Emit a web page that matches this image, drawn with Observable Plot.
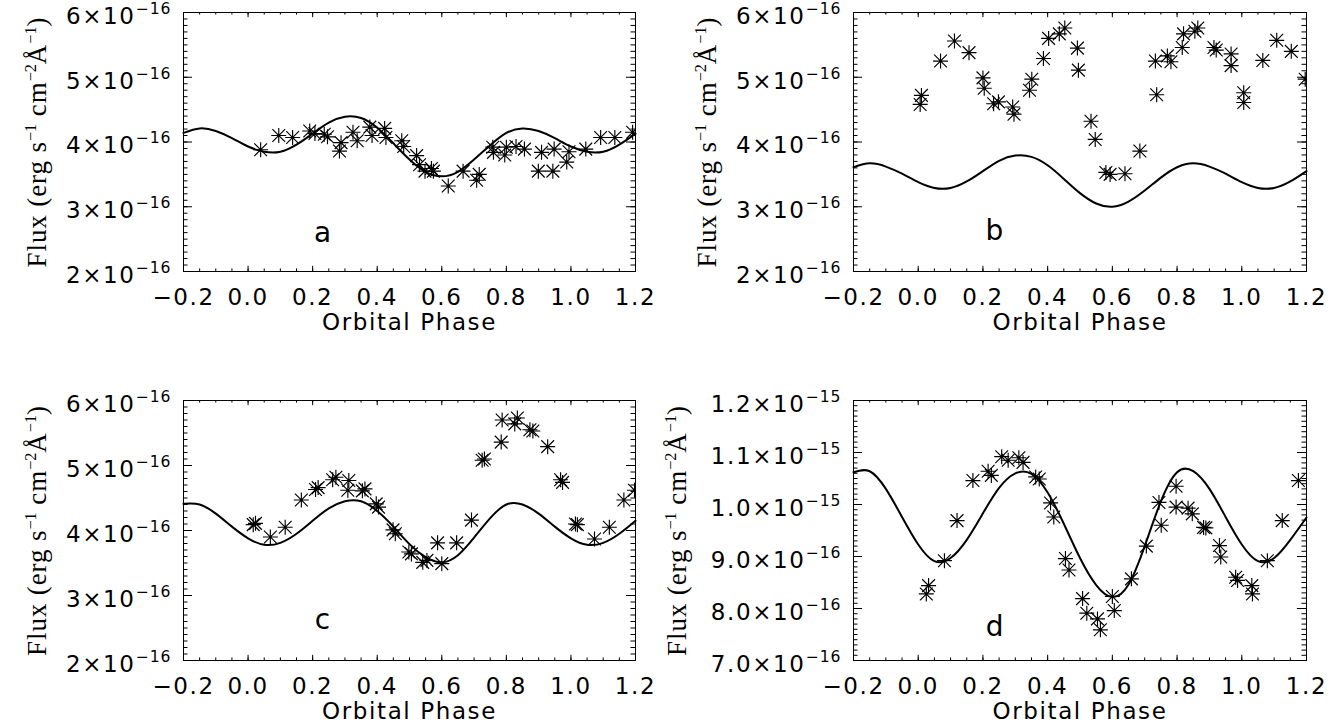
<!DOCTYPE html>
<html><head><meta charset="utf-8">
<script src="https://cdn.jsdelivr.net/npm/d3@7"></script>
<script src="https://cdn.jsdelivr.net/npm/@observablehq/plot@0.6"></script>
<style>
body{margin:0;background:#fff;}
#wrap{position:relative;width:1332px;height:726px;background:#fff;overflow:hidden}
#wrap > svg{position:absolute}
</style></head><body><div id="wrap"></div>
<script>
// ---------- data ----------
const curvePhase = [-0.2,-0.15,-0.1,-0.05,0,0.05,0.1,0.15,0.2,0.25,0.3,0.35,0.4,0.45,0.5,0.55,0.6,0.65,0.7,0.75,0.8,0.85,0.9,0.95,1.0,1.05,1.1,1.15,1.2];

// model curves (flux in units of 1e-16 for a,b,c; 1e-15 for d)
const curveA = [4.14,4.21,4.17,4.06,3.93,3.85,3.85,3.96,4.13,4.30,4.39,4.37,4.22,3.98,3.73,3.54,3.47,3.54,3.73,3.95,4.14,4.21,4.17,4.06,3.93,3.85,3.85,3.96,4.13];
const curveB = [3.61,3.67,3.62,3.51,3.38,3.29,3.29,3.39,3.55,3.71,3.79,3.77,3.64,3.43,3.21,3.05,3.00,3.08,3.25,3.45,3.61,3.67,3.62,3.51,3.38,3.29,3.29,3.39,3.55];
const curveC = [4.41,4.40,4.26,4.06,3.88,3.78,3.81,3.95,4.15,4.34,4.45,4.45,4.30,4.06,3.79,3.59,3.51,3.62,3.89,4.19,4.40,4.40,4.26,4.06,3.88,3.78,3.81,3.95,4.15];
const curveD = [1.062,1.064,1.030,0.976,0.923,0.891,0.897,0.932,0.983,1.032,1.060,1.059,1.023,0.963,0.897,0.845,0.822,0.846,0.920,1.006,1.062,1.064,1.030,0.976,0.923,0.891,0.897,0.932,0.975];

// observed points
const phaseA = [0.039,0.095,0.138,0.191,0.207,0.236,0.246,0.283,0.288,0.325,0.338,0.377,0.384,0.423,0.427,0.476,0.482,0.522,0.531,0.548,0.568,0.574,0.620,0.666,0.708,0.716,0.758,0.760,0.795,0.800,0.830,0.856,0.899,0.909,0.944,0.948,0.987,0.994,1.046,1.092,1.136,1.191];
const fluxA  = [3.88,4.10,4.07,4.17,4.13,4.12,4.08,3.86,3.99,4.15,4.02,4.23,4.10,4.21,4.07,4.02,3.93,3.79,3.65,3.55,3.59,3.55,3.32,3.55,3.41,3.50,3.92,3.84,3.80,3.92,3.93,3.89,3.55,3.84,3.55,3.89,3.69,3.85,3.89,4.07,4.07,4.15];

const phaseB = [0.006,0.010,0.069,0.112,0.157,0.200,0.204,0.233,0.248,0.292,0.296,0.344,0.351,0.387,0.403,0.436,0.453,0.492,0.495,0.534,0.547,0.580,0.593,0.639,0.685,0.733,0.737,0.770,0.781,0.816,0.820,0.855,0.864,0.914,0.921,0.967,0.967,1.006,1.006,1.065,1.108,1.153,1.196];
const fluxB  = [4.58,4.72,5.25,5.56,5.38,4.99,4.83,4.59,4.62,4.54,4.43,4.80,4.97,5.29,5.60,5.67,5.76,5.45,5.11,4.32,4.04,3.53,3.50,3.51,3.86,5.25,4.73,5.33,5.24,5.46,5.67,5.71,5.76,5.46,5.42,5.36,5.18,4.76,4.61,5.26,5.57,5.40,4.97];

const phaseC = [0.016,0.023,0.069,0.115,0.165,0.209,0.217,0.262,0.272,0.312,0.309,0.354,0.362,0.397,0.404,0.449,0.456,0.498,0.506,0.541,0.554,0.587,0.600,0.646,0.692,0.725,0.732,0.784,0.787,0.826,0.834,0.873,0.882,0.928,0.968,0.974,1.014,1.020,1.073,1.119,1.164,1.197];
const fluxC  = [4.09,4.11,3.90,4.05,4.47,4.63,4.66,4.78,4.82,4.77,4.62,4.61,4.64,4.41,4.36,4.01,3.95,3.67,3.64,3.51,3.54,3.81,3.49,3.81,4.16,5.08,5.10,5.36,5.70,5.64,5.73,5.55,5.53,5.29,4.78,4.74,4.10,4.09,3.87,4.05,4.47,4.62];

const phaseD = [0.025,0.032,0.081,0.120,0.169,0.216,0.226,0.258,0.278,0.311,0.324,0.363,0.374,0.409,0.419,0.455,0.466,0.508,0.521,0.554,0.563,0.600,0.606,0.659,0.705,0.744,0.751,0.797,0.797,0.834,0.847,0.882,0.889,0.931,0.935,0.981,0.987,1.031,1.033,1.079,1.125,1.175];
const fluxD  = [0.828,0.844,0.892,0.969,1.046,1.064,1.056,1.092,1.085,1.090,1.081,1.053,1.049,1.003,0.976,0.896,0.874,0.819,0.791,0.780,0.759,0.823,0.796,0.857,0.920,1.004,0.960,1.035,0.995,0.993,0.982,0.956,0.955,0.921,0.899,0.860,0.854,0.844,0.828,0.892,0.969,1.046];

// ticks and labels
const xTicks = [-0.2,0,0.2,0.4,0.6,0.8,1.0,1.2];
const xTickLabels = ["\u22120.2","0.0","0.2","0.4","0.6","0.8","1.0","1.2"];
const yTicks16 = [2,3,4,5,6];
const yTickLabels16 = ["2\u00d710\u207b\u00b9\u2076","3\u00d710\u207b\u00b9\u2076","4\u00d710\u207b\u00b9\u2076","5\u00d710\u207b\u00b9\u2076","6\u00d710\u207b\u00b9\u2076"];
const yTicksD = [0.7,0.8,0.9,1.0,1.1,1.2];
const yTickLabelsD = ["7.0\u00d710\u207b\u00b9\u2076","8.0\u00d710\u207b\u00b9\u2076","9.0\u00d710\u207b\u00b9\u2076","1.0\u00d710\u207b\u00b9\u2075","1.1\u00d710\u207b\u00b9\u2075","1.2\u00d710\u207b\u00b9\u2075"];
const xTitle = "Orbital Phase";
const yTitle = "Flux (erg s\u207b\u00b9 cm\u207b\u00b2\u00c5\u207b\u00b9)";
const panelLetters = ["a","b","c","d"];

// ---------- drawing ----------
const asterisk = {
  draw(ctx, size) {
    const r = Math.sqrt(size / Math.PI);
    const s = r * 0.85;
    ctx.moveTo(-r, 0); ctx.lineTo(r, 0);
    ctx.moveTo(0, -r); ctx.lineTo(0, r);
    ctx.moveTo(-s, -s); ctx.lineTo(s, s);
    ctx.moveTo(-s, s); ctx.lineTo(s, -s);
  }
};

// render unicode superscript runs as raised tspans
const supMap = {"\u207b": "\u2212", "\u00b9": "1", "\u00b2": "2", "\u2075": "5", "\u2076": "6"};
function supify(el, base, supScale, raise, supSpacing) {
  const s = el.textContent;
  if (!/[\u207b\u00b9\u00b2\u2075\u2076]/.test(s)) return;
  const runs = [];
  for (const ch of s) {
    const sup = ch in supMap;
    const c = sup ? supMap[ch] : ch;
    if (runs.length && runs[runs.length - 1].sup === sup) runs[runs.length - 1].t += c;
    else runs.push({sup, t: c});
  }
  el.textContent = "";
  let raised = false;
  for (const r of runs) {
    const ts = document.createElementNS("http://www.w3.org/2000/svg", "tspan");
    ts.textContent = r.t;
    if (r.sup) {
      ts.setAttribute("font-size", (base * supScale).toFixed(1));
      ts.setAttribute("dy", (-raise).toFixed(1));
      if (supSpacing != null) ts.style.letterSpacing = supSpacing;
      raised = true;
    } else if (raised) {
      ts.setAttribute("dy", raise.toFixed(1));
      raised = false;
    }
    el.appendChild(ts);
  }
}

const W = 666, H = 363;
function panel(cfg) {
  const fw = W - cfg.ml - cfg.mr, fh = H - cfg.mt - cfg.mb;
  const xMinor = d3.range(-4, 25).map(k => k * 0.05);
  const nMinor = Math.round((cfg.yDomain[1] - cfg.yDomain[0]) / cfg.yMinorStep);
  const yMinor = d3.range(0, nMinor + 1).map(k => cfg.yDomain[0] + k * cfg.yMinorStep);
  const xLab = new Map(xTicks.map((d, i) => [d, xTickLabels[i]]));
  const yLab = new Map(cfg.yTicks.map((d, i) => [d, cfg.yLabels[i]]));
  const curveData = curvePhase.map((p, i) => ({p, f: cfg.curve[i]}));
  const pts = cfg.phase.map((p, i) => ({p, f: cfg.flux[i]}));
  const xMajLen = 0.02 * fh, yMajLen = 0.02 * fw;
  const svg = Plot.plot({
    width: W, height: H,
    marginLeft: cfg.ml, marginRight: cfg.mr, marginTop: cfg.mt, marginBottom: cfg.mb,
    x: {domain: [-0.2, 1.2]},
    y: {domain: cfg.yDomain},
    style: {fontFamily: "DejaVu Sans", fontSize: "23px", color: "black", background: "transparent", overflow: "visible", letterSpacing: "1.6px"},
    marks: [
      Plot.line(curveData, {x: "p", y: "f", curve: "natural", stroke: "black", strokeWidth: 2}),
      Plot.dot(pts, {x: "p", y: "f", symbol: asterisk, r: 7.5, stroke: "black", fill: "none", strokeWidth: 1.15, clip: true}),
      Plot.frame({stroke: "black", strokeWidth: 1}),
      Plot.tickX(xTicks, {x: d => d, insetTop: fh - xMajLen, stroke: "black"}),
      Plot.tickX(xTicks, {x: d => d, insetBottom: fh - xMajLen, stroke: "black"}),
      Plot.tickX(xMinor, {x: d => d, insetTop: fh - xMajLen / 2, stroke: "black"}),
      Plot.tickX(xMinor, {x: d => d, insetBottom: fh - xMajLen / 2, stroke: "black"}),
      Plot.tickY(cfg.yTicks, {y: d => d, insetRight: fw - yMajLen, stroke: "black"}),
      Plot.tickY(cfg.yTicks, {y: d => d, insetLeft: fw - yMajLen, stroke: "black"}),
      Plot.tickY(yMinor, {y: d => d, insetRight: fw - yMajLen / 2, stroke: "black"}),
      Plot.tickY(yMinor, {y: d => d, insetLeft: fw - yMajLen / 2, stroke: "black"}),
      Plot.axisX(xTicks, {tickSize: 0, tickPadding: 17, tickFormat: d => xLab.get(d), label: null, fill: "black"}),
      Plot.axisY(cfg.yTicks, {tickSize: 0, tickPadding: 12, tickFormat: d => yLab.get(d), label: null, fill: "black", dy: 4}),
      Plot.text([cfg.letter], {x: cfg.lx, y: cfg.ly, text: d => d, fontSize: 28, fill: "black"}),
      Plot.text([xTitle], {frameAnchor: "bottom", lineAnchor: "middle", textAnchor: "middle", dy: 51, text: d => d, fontSize: 23, fill: "black"}),
      Plot.text([yTitle], {frameAnchor: "left", textAnchor: "middle", lineAnchor: "middle", rotate: -90, dx: cfg.ydx, text: d => d, fontSize: 27, fontFamily: "Liberation Serif", fill: "black"})
    ]
  });
  const sel = d3.select(svg).selectAll("text");
  sel.filter(function() { return this.textContent === yTitle; }).each(function() {
    this.style.letterSpacing = "0.9px";
    supify(this, 27, 0.6, 10, "0px");
  });
  sel.filter(function() { return cfg.yLabels.includes(this.textContent); }).each(function() {
    supify(this, 23, 0.68, 10, "1px");
  });
  svg.style.left = cfg.left + "px";
  svg.style.top = cfg.top + "px";
  document.getElementById("wrap").appendChild(svg);
}

const base16 = {yDomain: [2, 6], yTicks: yTicks16, yLabels: yTickLabels16, yMinorStep: 0.1};
panel({...base16, left: 0,   top: 0,   ml: 183, mr: 31, mt: 12, mb: 92, curve: curveA, phase: phaseA, flux: fluxA, letter: panelLetters[0], lx: 0.233, ly: 2.60, ydx: -146});
panel({...base16, left: 666, top: 0,   ml: 187, mr: 26, mt: 12, mb: 92, curve: curveB, phase: phaseB, flux: fluxB, letter: panelLetters[1], lx: 0.238, ly: 2.62, ydx: -146});
panel({...base16, left: 0,   top: 363, ml: 183, mr: 31, mt: 37, mb: 66, curve: curveC, phase: phaseC, flux: fluxC, letter: panelLetters[2], lx: 0.233, ly: 2.63, ydx: -146});
panel({yDomain: [0.7, 1.2], yTicks: yTicksD, yLabels: yTickLabelsD, yMinorStep: 0.01,
       left: 666, top: 363, ml: 187, mr: 26, mt: 37, mb: 66, curve: curveD, phase: phaseD, flux: fluxD, letter: panelLetters[3], lx: 0.239, ly: 0.765, ydx: -176});
</script></body></html>
